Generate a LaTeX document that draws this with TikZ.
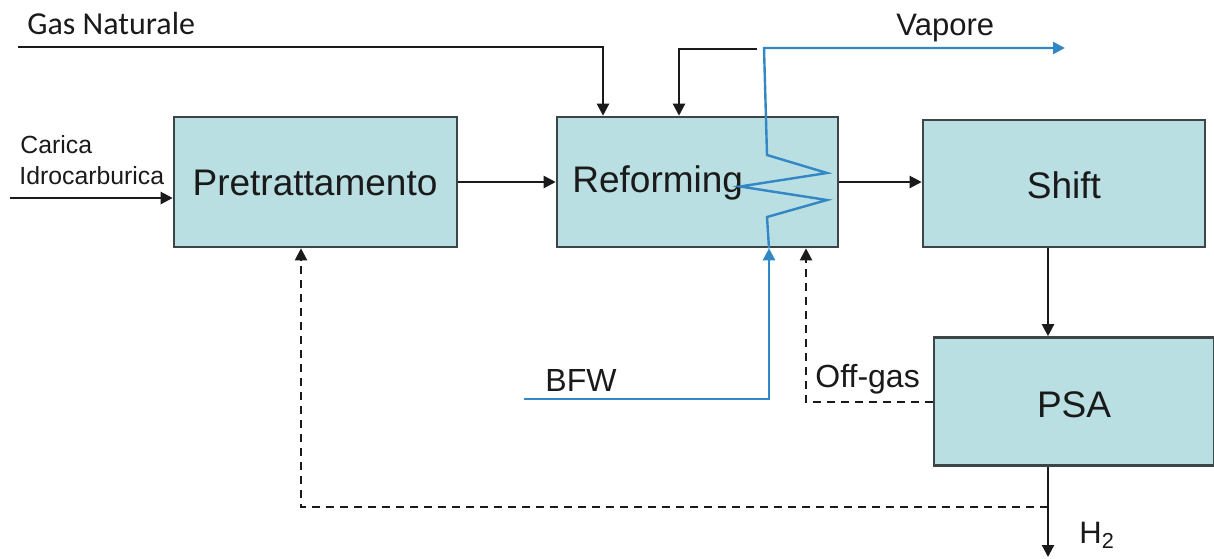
\documentclass[tikz,border=0pt]{standalone}
\usepackage{fontspec}
\setmainfont{Liberation Sans}
\newfontfamily\calib{Carlito}
\usetikzlibrary{arrows.meta,calc}
\definecolor{boxfill}{HTML}{B9DFE3}
\definecolor{boxdraw}{HTML}{3C4646}
\definecolor{steamblue}{HTML}{3387C4}
\definecolor{ink}{HTML}{1A1A1A}
\tikzset{
  unit/.style={draw=boxdraw, fill=boxfill, line width=1.3pt, inner sep=0pt},
  flow/.style={draw=ink, line width=1.1pt, -{Triangle[length=6pt,width=6pt]}},
  recyc/.style={draw=ink, line width=1.1pt, dash pattern=on 4pt off 3pt, -{Triangle[length=6pt,width=6pt]}},
  water/.style={draw=steamblue, line width=1.2pt, -{Triangle[length=6pt,width=6pt]}},
  boxlabel/.style={font=\fontsize{18.5pt}{20pt}\selectfont, text=ink},
  lbl/.style={font=\fontsize{16pt}{18pt}\selectfont, text=ink, inner sep=0pt, anchor=west},
  small/.style={font=\fontsize{12.4pt}{14pt}\selectfont, text=ink, inner sep=0pt, anchor=west},
}
\begin{document}
\begin{tikzpicture}[x=0.5pt,y=-0.5pt]
\useasboundingbox (0,0) rectangle (1214,558);
% units
\node[unit, minimum width=141.5pt, minimum height=65pt] (pre) at (315.5,182) {};
\node[boxlabel] (pretxt) at (315,183) {Pretrattamento};
\node[unit, minimum width=140.5pt, minimum height=65pt] (ref) at (697.5,182) {};
\node[boxlabel, anchor=west, inner sep=0pt] (reftxt) at (572,183) {Reforming};
\node[unit, minimum width=141pt, minimum height=63.5pt] (shift) at (1064,183.5) {};
\node[boxlabel] (shifttxt) at (1064,185) {Shift};
\node[unit, minimum width=140pt, minimum height=64pt] (psa) at (1074,401.5) {};
\node[boxlabel] (psatxt) at (1074,405) {PSA};
% labels
\node[lbl, font=\calib\fontsize{16pt}{18pt}\selectfont] (gn) at (27,24) {Gas Naturale};
\node[small] (car1) at (20,145) {Carica};
\node[small] (car2) at (19,176) {Idrocarburica};
\node[lbl, font=\fontsize{15.5pt}{17pt}\selectfont] (vap) at (896,28) {Vapore};
\node[lbl] (bfw) at (545,380) {BFW};
\node[lbl] (offg) at (815,379) {Off-gas};
\node[lbl, font=\fontsize{15.5pt}{17pt}\selectfont] (h2) at (1079,535) {H\textsubscript{2}};
% coordinates
\coordinate (cin) at (10,198);
\coordinate (gnstart) at (18,47);
\coordinate (loopstart) at (757,49);
\coordinate (bfwstart) at (524,399);
\coordinate (vapend) at (1065,48);
% black flows
\draw[flow] (cin) -- (cin -| pre.west);
\draw[flow] (pre.east) -- (ref.west);
\draw[flow] (ref.east) -- (ref.east -| shift.west);
\draw[flow] (shift.south -| 1048,0) -- (psa.north -| 1048,0);
\draw[flow] (gnstart) -- (603,47) -- (ref.north -| 603,0);
\draw[flow] (loopstart) -- (679,49) -- (ref.north -| 679,0);
\draw[flow] (psa.south -| 1048,0) -- (1048,557);
% recycle (dashed)
\draw[recyc] (psa.west |- 0,402) -- (806,402) -- (ref.south -| 806,0);
\draw[recyc] (1048,507) -- (301,507) -- (pre.south -| 301,0);
% steam / BFW
\draw[water] (bfwstart) -- (769,399) -- (ref.south -| 769,0);
\draw[water, line join=miter] (ref.south -| 769,0) -- (767,217) -- (827,200) -- (740,186.5) -- (827,173) -- (767,155) -- (764,48) -- (vapend);
\end{tikzpicture}
\end{document}
